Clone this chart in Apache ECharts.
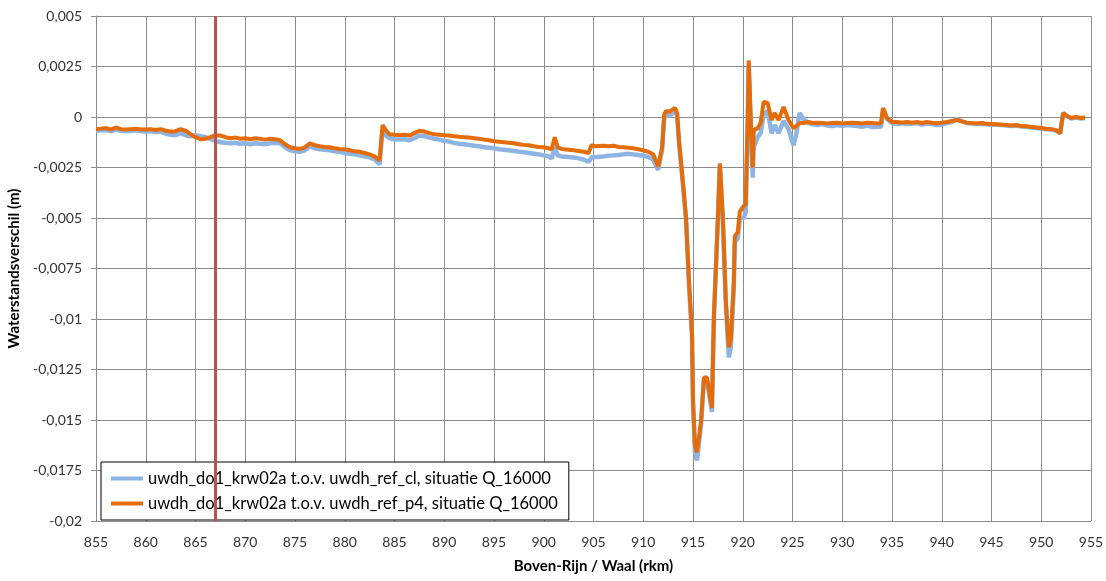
<!DOCTYPE html>
<html>
<head>
<meta charset="utf-8">
<script src="https://cdn.jsdelivr.net/npm/echarts@6/dist/echarts.min.js"></script>
<style>
html,body{margin:0;padding:0;background:#fff;}
#chart{width:1106px;height:581px;}
</style>
</head>
<body>
<div id="chart"></div>
<script>
// ---- DATA ----
var seriesNames = [
  'uwdh_do1_krw02a t.o.v. uwdh_ref_cl, situatie Q_16000',
  'uwdh_do1_krw02a t.o.v. uwdh_ref_p4, situatie Q_16000'
];
var markerKm = 867;
var kmPoints = [
  855.0,855.5,856.0,856.5,857.0,857.5,858.0,858.5,859.0,859.5,
  860.0,860.5,861.0,861.5,862.0,862.5,863.0,863.5,864.0,864.5,
  865.0,865.5,866.0,866.5,867.0,867.5,868.0,868.5,869.0,869.5,
  870.0,870.5,871.0,871.5,872.0,872.5,873.0,873.5,874.0,874.5,
  875.0,875.5,876.0,876.5,877.0,877.5,878.0,878.5,879.0,879.5,
  880.0,880.5,881.0,881.5,882.0,882.5,883.0,883.5,883.8,884.2,
  884.5,885.0,885.5,886.0,886.5,887.0,887.5,888.0,888.5,889.0,
  889.5,890.0,890.5,891.0,891.5,892.0,892.5,893.0,893.5,894.0,
  894.5,895.0,895.5,896.0,896.5,897.0,897.5,898.0,898.5,899.0,
  899.5,900.0,900.5,900.8,901.1,901.4,901.8,902.5,903.0,903.5,
  904.0,904.5,904.8,905.2,906.0,906.5,907.0,907.5,908.0,908.5,
  909.0,909.5,910.0,910.5,911.0,911.5,911.9,912.1,912.3,912.6,
  912.9,913.2,913.4,913.6,914.0,914.3,914.6,914.9,915.0,915.2,
  915.4,915.8,916.1,916.4,916.9,917.1,917.5,917.7,918.0,918.3,
  918.6,918.8,919.1,919.2,919.5,919.7,920.1,920.3,920.5,920.6,
  920.8,921.0,921.1,921.5,921.8,922.1,922.5,922.9,923.2,923.6,
  924.1,924.6,925.1,925.4,925.7,926.1,926.6,927.0,927.5,928.0,
  928.5,929.0,929.5,930.0,930.5,931.0,931.5,932.0,932.5,933.0,
  933.5,933.9,934.1,934.5,935.0,935.5,936.0,936.5,937.0,937.5,
  938.0,938.5,939.0,939.5,940.0,940.5,941.0,941.5,942.0,942.5,
  943.0,943.5,944.0,944.5,945.0,945.5,946.0,946.5,947.0,947.5,
  948.0,948.5,949.0,949.5,950.0,950.5,951.0,951.5,951.9,952.2,
  952.6,953.0,953.5,954.0,954.4
];
var valuesCl = [
  -0.00068,-0.00066,-0.00065,-0.00070,-0.00062,-0.00068,-0.00070,-0.00069,-0.00066,-0.00070,
  -0.00072,-0.00070,-0.00074,-0.00072,-0.00082,-0.00088,-0.00090,-0.00080,-0.00090,-0.00095,
  -0.00090,-0.00095,-0.00100,-0.00108,-0.00118,-0.00125,-0.00128,-0.00130,-0.00128,-0.00132,
  -0.00130,-0.00135,-0.00130,-0.00132,-0.00135,-0.00130,-0.00128,-0.00130,-0.00150,-0.00165,
  -0.00170,-0.00172,-0.00165,-0.00145,-0.00155,-0.00160,-0.00162,-0.00165,-0.00170,-0.00172,
  -0.00178,-0.00182,-0.00185,-0.00190,-0.00195,-0.00200,-0.00210,-0.00235,-0.00060,-0.00095,
  -0.00105,-0.00110,-0.00112,-0.00110,-0.00115,-0.00105,-0.00092,-0.00095,-0.00102,-0.00108,
  -0.00112,-0.00118,-0.00122,-0.00128,-0.00132,-0.00135,-0.00138,-0.00142,-0.00145,-0.00150,
  -0.00152,-0.00155,-0.00160,-0.00162,-0.00165,-0.00168,-0.00172,-0.00175,-0.00178,-0.00182,
  -0.00185,-0.00190,-0.00195,-0.00205,-0.00150,-0.00190,-0.00195,-0.00198,-0.00200,-0.00205,
  -0.00210,-0.00222,-0.00200,-0.00198,-0.00195,-0.00192,-0.00190,-0.00188,-0.00185,-0.00182,
  -0.00185,-0.00188,-0.00192,-0.00198,-0.00210,-0.00262,-0.00160,-0.00010,0.00010,0.00005,
  0.00015,0.00030,0.00010,-0.00130,-0.00340,-0.00510,-0.00830,-0.01090,-0.01420,-0.01660,
  -0.01700,-0.01530,-0.01300,-0.01300,-0.01460,-0.01000,-0.00510,-0.00240,-0.00510,-0.00930,
  -0.01190,-0.01140,-0.00850,-0.00620,-0.00600,-0.00500,-0.00500,-0.00470,-0.00020,0.00260,
  -0.00050,-0.00300,-0.00150,-0.00100,-0.00080,0.00010,0.00030,-0.00080,-0.00040,-0.00080,
  -0.00020,-0.00060,-0.00140,-0.00080,0.00020,-0.00010,-0.00030,-0.00035,-0.00040,-0.00035,
  -0.00042,-0.00045,-0.00040,-0.00045,-0.00040,-0.00042,-0.00045,-0.00048,-0.00042,-0.00050,
  -0.00048,-0.00048,0.00035,-0.00010,-0.00030,-0.00035,-0.00030,-0.00035,-0.00032,-0.00030,
  -0.00038,-0.00032,-0.00035,-0.00040,-0.00038,-0.00030,-0.00025,-0.00010,-0.00020,-0.00030,
  -0.00032,-0.00035,-0.00033,-0.00036,-0.00038,-0.00038,-0.00040,-0.00042,-0.00044,-0.00042,
  -0.00047,-0.00048,-0.00052,-0.00054,-0.00057,-0.00060,-0.00062,-0.00067,-0.00082,0.00018,
  0.00003,-0.00008,-0.00003,-0.00008,-0.00005
];
var valuesP4 = [
  -0.00060,-0.00058,-0.00055,-0.00062,-0.00052,-0.00060,-0.00062,-0.00060,-0.00058,-0.00062,
  -0.00062,-0.00060,-0.00064,-0.00060,-0.00068,-0.00072,-0.00070,-0.00060,-0.00068,-0.00085,
  -0.00100,-0.00110,-0.00108,-0.00100,-0.00090,-0.00092,-0.00100,-0.00105,-0.00102,-0.00108,
  -0.00105,-0.00110,-0.00105,-0.00108,-0.00112,-0.00108,-0.00110,-0.00115,-0.00135,-0.00150,
  -0.00155,-0.00158,-0.00150,-0.00130,-0.00140,-0.00145,-0.00148,-0.00150,-0.00155,-0.00158,
  -0.00160,-0.00165,-0.00170,-0.00172,-0.00178,-0.00185,-0.00195,-0.00215,-0.00040,-0.00070,
  -0.00085,-0.00088,-0.00090,-0.00088,-0.00092,-0.00080,-0.00068,-0.00072,-0.00080,-0.00085,
  -0.00088,-0.00090,-0.00092,-0.00095,-0.00098,-0.00100,-0.00102,-0.00105,-0.00108,-0.00112,
  -0.00115,-0.00120,-0.00122,-0.00125,-0.00128,-0.00130,-0.00135,-0.00138,-0.00140,-0.00145,
  -0.00148,-0.00150,-0.00155,-0.00160,-0.00100,-0.00150,-0.00158,-0.00162,-0.00165,-0.00168,
  -0.00172,-0.00178,-0.00140,-0.00145,-0.00142,-0.00145,-0.00142,-0.00148,-0.00150,-0.00152,
  -0.00155,-0.00160,-0.00165,-0.00172,-0.00185,-0.00245,-0.00150,0.00010,0.00030,0.00025,
  0.00035,0.00045,0.00020,-0.00120,-0.00330,-0.00500,-0.00820,-0.01070,-0.01400,-0.01630,
  -0.01660,-0.01510,-0.01290,-0.01290,-0.01440,-0.00990,-0.00500,-0.00230,-0.00500,-0.00910,
  -0.01140,-0.01100,-0.00820,-0.00590,-0.00570,-0.00470,-0.00440,-0.00430,0.00000,0.00280,
  0.00000,-0.00250,-0.00065,-0.00055,-0.00030,0.00075,0.00070,-0.00015,0.00020,-0.00015,
  0.00050,-0.00015,-0.00055,-0.00045,-0.00030,-0.00030,-0.00025,-0.00030,-0.00028,-0.00030,
  -0.00032,-0.00030,-0.00028,-0.00032,-0.00030,-0.00028,-0.00030,-0.00032,-0.00028,-0.00030,
  -0.00032,-0.00030,0.00045,-0.00005,-0.00025,-0.00025,-0.00028,-0.00025,-0.00028,-0.00025,
  -0.00030,-0.00025,-0.00028,-0.00030,-0.00028,-0.00025,-0.00020,-0.00015,-0.00022,-0.00028,
  -0.00030,-0.00032,-0.00030,-0.00034,-0.00035,-0.00036,-0.00038,-0.00040,-0.00042,-0.00040,
  -0.00045,-0.00046,-0.00050,-0.00052,-0.00055,-0.00058,-0.00060,-0.00065,-0.00080,0.00020,
  0.00005,-0.00005,0.00000,-0.00005,-0.00002
];

// ---- CHART ----
function pairs(xs, ys){ return xs.map(function(x,i){ return [x, ys[i]]; }); }
function fmtY(v){
  var s = (Math.round(v*10000)/10000).toFixed(4).replace(/0+$/,'').replace(/\.$/,'');
  if (s === '-0') s = '0';
  return s.replace('.', ',');
}
var FONT = 'Lato, "Open Sans", sans-serif';
var gridColor = '#8c8c8c';
var chart = echarts.init(document.getElementById('chart'), null, {renderer:'canvas'});
chart.setOption({
  animation: false,
  backgroundColor: '#fff',
  textStyle: {fontFamily: FONT},
  grid: {left: 96, right: 15, top: 16, bottom: 60, containLabel: false, outerBoundsMode: 'none'},
  legend: {
    orient: 'vertical', left: 101, top: 462,
    backgroundColor: '#fff', borderColor: '#000', borderWidth: 1,
    padding: [8, 11, 8, 10], itemGap: 8,
    itemWidth: 32, itemHeight: 4, icon: 'rect',
    textStyle: {fontSize: 16.5, color: '#000', fontFamily: FONT},
    data: seriesNames
  },
  xAxis: {
    type: 'value', min: 855, max: 955, interval: 5,
    name: 'Boven-Rijn / Waal (rkm)', nameLocation: 'middle', nameGap: 38,
    nameTextStyle: {fontSize: 15, fontWeight: 'bold', color: '#000', fontFamily: FONT},
    axisLine: {lineStyle: {color: gridColor}},
    axisTick: {show: true, length: 5, lineStyle: {color: gridColor}},
    axisLabel: {fontSize: 14, color: '#333', margin: 14},
    splitLine: {show: true, lineStyle: {color: gridColor, width: 1}}
  },
  yAxis: {
    type: 'value', min: -0.02, max: 0.005, interval: 0.0025,
    name: 'Waterstandsverschil (m)', nameLocation: 'middle', nameGap: 70, nameRotate: 90,
    nameTextStyle: {fontSize: 15, fontWeight: 'bold', color: '#000', fontFamily: FONT},
    axisLine: {show: true, lineStyle: {color: gridColor}},
    axisTick: {show: true, length: 5, lineStyle: {color: gridColor}},
    axisLabel: {fontSize: 14, color: '#333', margin: 14, formatter: fmtY},
    splitLine: {show: true, lineStyle: {color: gridColor, width: 1}}
  },
  series: [
    {
      name: seriesNames[0], type: 'line', data: pairs(kmPoints, valuesCl),
      showSymbol: false, symbol: 'none', smooth: false,
      lineStyle: {color: '#8db4e2', width: 4.5}, itemStyle: {color: '#8db4e2'}, z: 2
    },
    {
      name: seriesNames[1], type: 'line', data: pairs(kmPoints, valuesP4),
      showSymbol: false, symbol: 'none', smooth: false,
      lineStyle: {color: '#e46c0a', width: 4}, itemStyle: {color: '#e46c0a'}, z: 3,
      markLine: {
        silent: true, symbol: ['none','none'], label: {show: false},
        lineStyle: {color: '#c0504d', width: 3, type: 'solid'},
        data: [{xAxis: markerKm}]
      }
    }
  ]
});
</script>
</body>
</html>
